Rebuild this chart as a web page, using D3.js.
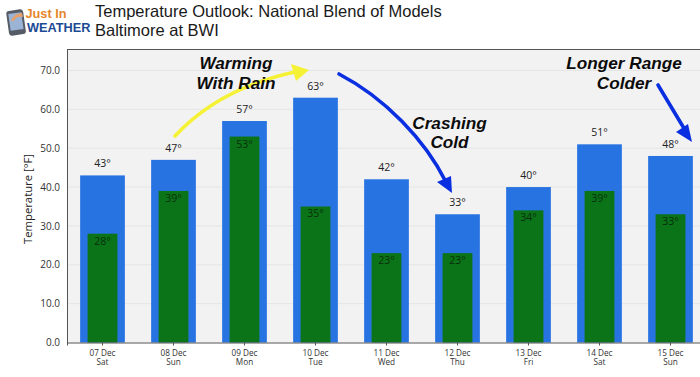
<!DOCTYPE html>
<html>
<head>
<meta charset="utf-8">
<script src="https://cdn.jsdelivr.net/npm/d3@7"></script>
<style>
  html, body { margin: 0; padding: 0; background: #fff; overflow: hidden; }
  svg { display: block; }
  .tick text { font-family: "Open Sans", "Noto Sans", sans-serif; }
  .note { font-family: "Liberation Sans", Arial, sans-serif; font-weight: bold; font-style: italic; font-size: 17.2px; fill: #0c0c0c; text-anchor: middle; }
  .title { font-family: "Liberation Sans", Arial, sans-serif; font-size: 16.5px; fill: #1a1a1a; }
  .val { font-family: "Open Sans", "Noto Sans", sans-serif; font-size: 10.5px; text-anchor: middle; }
</style>
</head>
<body>
<svg id="chart" width="700" height="377"></svg>
<script>
// Temperature outlook: highs and lows per day
const dates = ['07 Dec', '08 Dec', '09 Dec', '10 Dec', '11 Dec', '12 Dec', '13 Dec', '14 Dec', '15 Dec'];
const days = ['Sat', 'Sun', 'Mon', 'Tue', 'Wed', 'Thu', 'Fri', 'Sat', 'Sun'];
const highs = [43, 47, 57, 63, 42, 33, 40, 51, 48];
const lows = [28, 39, 53, 35, 23, 23, 34, 39, 33];
const yTicks = [0, 10, 20, 30, 40, 50, 60, 70];

const W = 700, H = 377;
const M = { top: 49.5, right: -6, bottom: 34.5, left: 67 };
const BLUE = '#2873e2', GREEN = '#0c7418', GRID = '#e5e5e5', AXIS = '#555';

const svg = d3.select('#chart');

const x = d3.scaleBand().domain(d3.range(dates.length)).range([M.left, W - M.right]);
const y = d3.scaleLinear().domain([0, 75.4]).range([H - M.bottom, M.top]);
const highW = x.step() * 0.63, lowW = x.step() * 0.42;
const cx = i => x(i) + x.bandwidth() / 2;

// Plot background
svg.append('rect').attr('x', M.left).attr('y', M.top)
  .attr('width', W - M.left).attr('height', H - M.bottom - M.top).attr('fill', '#f3f2f3');

// Grid
svg.append('g').selectAll('line').data(yTicks.slice(1)).join('line')
  .attr('x1', M.left).attr('x2', W)
  .attr('y1', d => y(d)).attr('y2', d => y(d))
  .attr('stroke', GRID).attr('stroke-width', 1);

// Bars
svg.append('g').selectAll('rect').data(highs).join('rect')
  .attr('x', (d, i) => cx(i) - highW / 2).attr('y', d => y(d))
  .attr('width', highW).attr('height', d => y(0) - y(d))
  .attr('fill', BLUE);

svg.append('g').selectAll('rect').data(lows).join('rect')
  .attr('x', (d, i) => cx(i) - lowW / 2).attr('y', d => y(d))
  .attr('width', lowW).attr('height', d => y(0) - y(d))
  .attr('fill', GREEN);

// Value labels
svg.append('g').selectAll('text').data(highs).join('text').attr('class', 'val')
  .attr('x', (d, i) => cx(i)).attr('y', d => y(d) - 8)
  .attr('fill', '#222').text(d => d + '°');

svg.append('g').selectAll('text').data(lows).join('text').attr('class', 'val')
  .attr('x', (d, i) => cx(i)).attr('y', d => y(d) + 11)
  .attr('fill', '#06300c').text(d => d + '°');

// Axes
const yAxis = svg.append('g').attr('transform', `translate(${M.left},0)`)
  .call(d3.axisLeft(y).tickValues(yTicks).tickSize(0).tickPadding(7).tickFormat(d => d.toFixed(1)));
yAxis.select('.domain').attr('stroke', AXIS);
yAxis.selectAll('.tick text').attr('font-size', 10).attr('fill', '#333');

const xAxis = svg.append('g').attr('transform', `translate(0,${H - M.bottom})`)
  .call(d3.axisBottom(x).tickSize(3).tickFormat(''));
xAxis.select('.domain').attr('stroke', AXIS);
xAxis.selectAll('.tick line').attr('stroke', AXIS);
xAxis.selectAll('.tick text').remove();
xAxis.selectAll('.tick').append('text')
  .attr('y', 13).attr('fill', '#333').attr('font-size', 8.2).attr('text-anchor', 'middle')
  .text(d => dates[d]);
xAxis.selectAll('.tick').append('text')
  .attr('y', 22.5).attr('fill', '#333').attr('font-size', 8.2).attr('text-anchor', 'middle')
  .text(d => days[d]);

svg.append('line').attr('x1', M.left).attr('x2', W).attr('y1', M.top).attr('y2', M.top)
  .attr('stroke', AXIS).attr('stroke-width', 1);

svg.append('text').attr('transform', `translate(32,199) rotate(-90)`)
  .attr('text-anchor', 'middle').attr('font-family', '"Open Sans", "Noto Sans", sans-serif')
  .attr('font-size', 11.3).attr('fill', '#222').text('Temperature [°F]');

// Title
svg.append('text').attr('class', 'title').attr('x', 95).attr('y', 17).text('Temperature Outlook: National Blend of Models');
svg.append('text').attr('class', 'title').attr('x', 95).attr('y', 36).text('Baltimore at BWI');

// Logo
const logo = svg.append('g');
logo.append('rect').attr('x', 7.5).attr('y', 10).attr('width', 17).attr('height', 25).attr('rx', 3)
  .attr('transform', 'rotate(-8 16 22)').attr('fill', '#565c66');
logo.append('rect').attr('x', 9.5).attr('y', 13).attr('width', 13).attr('height', 17)
  .attr('transform', 'rotate(-8 16 22)').attr('fill', '#9bb4d6');
logo.append('path').attr('d', 'M11 21 Q14 13 22 13 L23 17 Q16 16 14 21 Z').attr('fill', '#e8a06a');
logo.append('text').attr('x', 25.5).attr('y', 18).attr('font-family', '"Liberation Sans", Arial, sans-serif')
  .attr('font-weight', 'bold').attr('font-size', 12).attr('textLength', 41).attr('lengthAdjust', 'spacingAndGlyphs')
  .attr('fill', '#e5862a').text('Just In');
logo.append('text').attr('x', 27).attr('y', 32).attr('font-family', '"Liberation Sans", Arial, sans-serif')
  .attr('font-weight', 'bold').attr('font-size', 13).attr('textLength', 63.5).attr('lengthAdjust', 'spacingAndGlyphs')
  .attr('fill', '#1c4a94').text('WEATHER');

// Arrows: curve plus triangular head
function arrow(d, head, color, sw) {
  svg.append('path').attr('d', d).attr('fill', 'none').attr('stroke', color)
    .attr('stroke-width', sw).attr('stroke-linecap', 'round');
  svg.append('path').attr('d', head).attr('fill', color);
}
arrow('M175 136 C205 104 243 83 295 72', 'M309 70 L291 64 L296 81 Z', '#f5f236', 3.6);
arrow('M339 74 C385 98 425 140 446 182', 'M452 193 L437 182 L451 176 Z', '#0a2fe0', 3.6);
arrow('M658 85 L685 130', 'M692 142 L676 132 L688 124 Z', '#0a2fe0', 3.6);

// Annotations
function note(lines, px, py) {
  lines.forEach((t, i) => {
    svg.append('text').attr('class', 'note').attr('x', px).attr('y', py + i * 19.6).text(t);
  });
}
note(['Warming', 'With Rain'], 236, 69);
note(['Crashing', 'Cold'], 449.5, 128.5);
note(['Longer Range', 'Colder'], 624, 69);
</script>
</body>
</html>
